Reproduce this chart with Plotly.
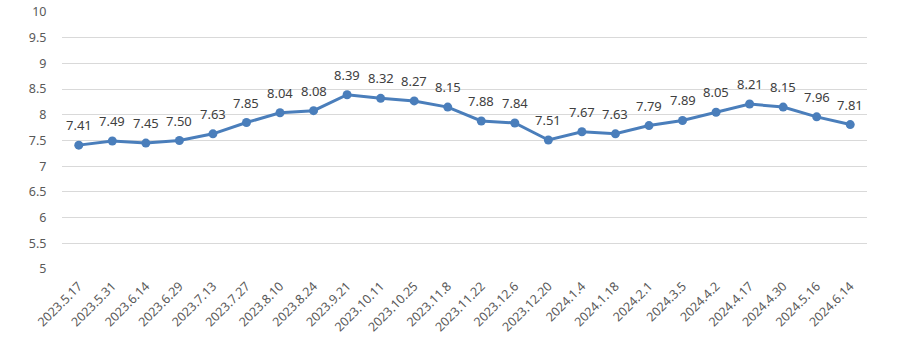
import plotly.graph_objects as go

dates = ["2023.5.17", "2023.5.31", "2023.6.14", "2023.6.29", "2023.7.13", "2023.7.27",
         "2023.8.10", "2023.8.24", "2023.9.21", "2023.10.11", "2023.10.25", "2023.11.8",
         "2023.11.22", "2023.12.6", "2023.12.20", "2024.1.4", "2024.1.18", "2024.2.1",
         "2024.3.5", "2024.4.2", "2024.4.17", "2024.4.30", "2024.5.16", "2024.6.14"]
values = [7.41, 7.49, 7.45, 7.50, 7.63, 7.85, 8.04, 8.08, 8.39, 8.32, 8.27, 8.15,
          7.88, 7.84, 7.51, 7.67, 7.63, 7.79, 7.89, 8.05, 8.21, 8.15, 7.96, 7.81]
y_ticks = [5, 5.5, 6, 6.5, 7, 7.5, 8, 8.5, 9, 9.5, 10]

FONT = "Noto Sans, Open Sans, sans-serif"

fig = go.Figure()
fig.add_trace(go.Scatter(
    x=dates, y=values, mode="lines+markers",
    line=dict(color="#4a7ebb", width=3),
    marker=dict(color="#4a7ebb", size=9),
    hoverinfo="skip",
))

for d, v in zip(dates, values):
    fig.add_annotation(x=d, y=v, text=f"{v:.2f}", showarrow=False,
                       yanchor="bottom", yshift=9,
                       font=dict(size=13, color="#404040", family=FONT))

fig.update_layout(
    width=907, height=346,
    margin=dict(l=62, r=40, t=12, b=77),
    paper_bgcolor="white", plot_bgcolor="white",
    showlegend=False,
    font=dict(family=FONT, size=12.5, color="#595959"),
    xaxis=dict(type="category", range=[-0.5, len(dates) - 0.5],
               tickangle=-45, showgrid=False, zeroline=False,
               showline=False, ticks="outside", ticklen=4, tickcolor="rgba(0,0,0,0)",
               automargin=False,
               tickfont=dict(size=12.5, color="#595959")),
    yaxis=dict(range=[5, 10], tickvals=y_ticks, ticktext=[f"{t:g}" for t in y_ticks],
               showgrid=True, gridcolor="#d9d9d9", gridwidth=1, zeroline=False,
               showline=False, ticks="outside", ticklen=12, tickcolor="rgba(0,0,0,0)",
               automargin=False,
               tickfont=dict(size=12.5, color="#595959")),
)

fig.write_html("out.html")
